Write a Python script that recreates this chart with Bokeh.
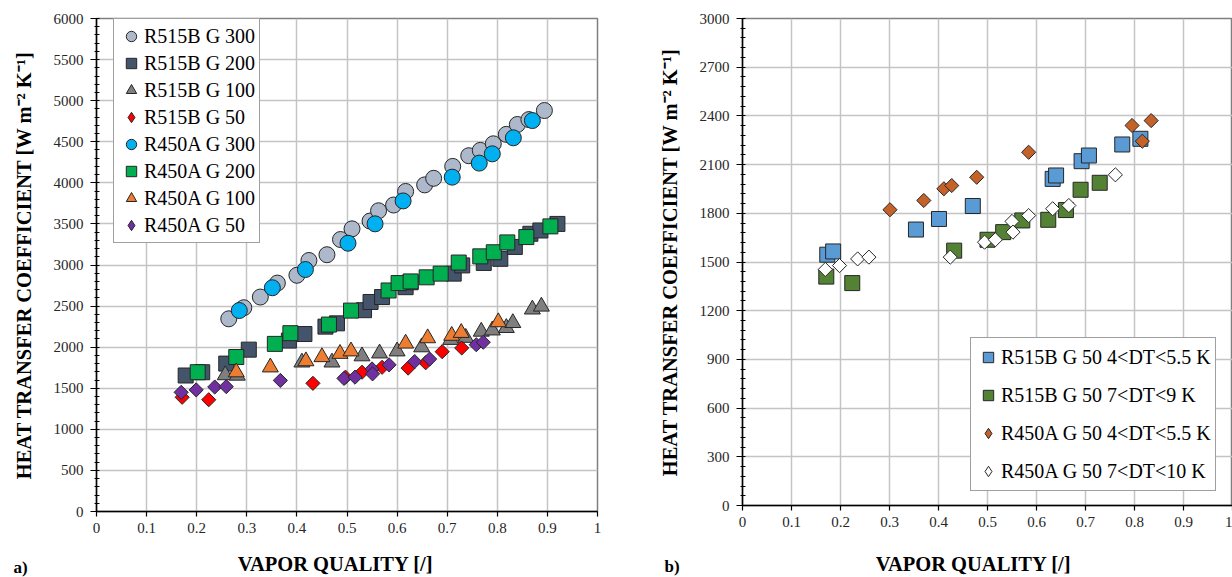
import numpy as np
from bokeh.plotting import figure
from bokeh.layouts import row
from bokeh.models import (FixedTicker, CustomJSTickFormatter, Label, Range1d,
                          Legend, LegendItem)
from bokeh.embed import file_html
from bokeh.resources import INLINE

FONT = "Liberation Serif"

# ---------------- axes ----------------
x_ticks = [0, 0.1, 0.2, 0.3, 0.4, 0.5, 0.6, 0.7, 0.8, 0.9, 1.0]
ya_ticks = [0, 500, 1000, 1500, 2000, 2500, 3000, 3500, 4000, 4500, 5000, 5500, 6000]
yb_ticks = [0, 300, 600, 900, 1200, 1500, 1800, 2100, 2400, 2700, 3000]

# ---------------- data: panel a ----------------
r515b_g300_x = [0.264, 0.294, 0.327, 0.361, 0.40, 0.424, 0.46, 0.487, 0.51, 0.546, 0.563, 0.593,
                0.617, 0.655, 0.673, 0.711, 0.743, 0.766, 0.792, 0.818, 0.840, 0.863, 0.894]
r515b_g300_y = [2345, 2480, 2610, 2780, 2875, 3055, 3125, 3310, 3440, 3535, 3660, 3730,
                3895, 3975, 4055, 4200, 4330, 4395, 4475, 4590, 4710, 4770, 4880]

r515b_g200_x = [0.178, 0.211, 0.259, 0.304, 0.384, 0.415, 0.457, 0.480, 0.534, 0.547, 0.570,
                0.617, 0.627, 0.713, 0.730, 0.773, 0.806, 0.835, 0.866, 0.886, 0.920]
r515b_g200_y = [1655, 1695, 1800, 1970, 2080, 2160, 2250, 2290, 2450, 2550, 2610,
                2730, 2790, 2895, 2995, 3025, 3075, 3220, 3380, 3420, 3500]

r515b_g100_x = [0.257, 0.281, 0.41, 0.47, 0.530, 0.565, 0.600, 0.649, 0.707, 0.737, 0.768,
                0.790, 0.818, 0.831, 0.870, 0.888]
r515b_g100_y = [1660, 1655, 1815, 1815, 1890, 1925, 1950, 2000, 2090, 2115, 2190,
                2205, 2235, 2295, 2460, 2495]

r515b_g50_x = [0.171, 0.224, 0.432, 0.497, 0.530, 0.570, 0.622, 0.657, 0.690, 0.729]
r515b_g50_y = [1390, 1360, 1560, 1635, 1695, 1755, 1745, 1810, 1945, 1990]

r450a_g300_x = [0.285, 0.351, 0.417, 0.502, 0.556, 0.612, 0.710, 0.764, 0.790, 0.832, 0.870]
r450a_g300_y = [2446, 2723, 2945, 3265, 3501, 3780, 4069, 4240, 4353, 4548, 4758]

r450a_g200_x = [0.202, 0.279, 0.356, 0.387, 0.464, 0.508, 0.583, 0.603, 0.627, 0.659, 0.687,
                0.723, 0.766, 0.793, 0.820, 0.858, 0.906]
r450a_g200_y = [1695, 1880, 2040, 2170, 2275, 2445, 2690, 2780, 2800, 2850, 2895,
                3030, 3105, 3155, 3275, 3340, 3470]

r450a_g100_x = [0.279, 0.347, 0.418, 0.450, 0.486, 0.508, 0.617, 0.661, 0.709, 0.728, 0.802]
r450a_g100_y = [1695, 1755, 1830, 1880, 1920, 1950, 2045, 2110, 2140, 2175, 2305]

r450a_g50_x = [0.169, 0.199, 0.236, 0.259, 0.367, 0.494, 0.516, 0.550, 0.551, 0.584, 0.635,
               0.665, 0.758, 0.772]
r450a_g50_y = [1450, 1480, 1515, 1520, 1595, 1620, 1635, 1735, 1675, 1785, 1825,
               1855, 2030, 2060]

# ---------------- data: panel b ----------------
b_r515b_low_x = [0.173, 0.185, 0.354, 0.401, 0.470, 0.633, 0.640, 0.692, 0.707, 0.775, 0.812]
b_r515b_low_y = [1545, 1565, 1700, 1765, 1845, 2012, 2033, 2121, 2156, 2224, 2259]

b_r515b_high_x = [0.171, 0.224, 0.432, 0.500, 0.532, 0.571, 0.624, 0.660, 0.690, 0.729]
b_r515b_high_y = [1410, 1370, 1570, 1637, 1684, 1756, 1760, 1820, 1945, 1988]

b_r450a_low_x = [0.301, 0.370, 0.411, 0.427, 0.478, 0.584, 0.795, 0.816, 0.834]
b_r450a_low_y = [1822, 1879, 1951, 1971, 2022, 2176, 2341, 2244, 2371]

b_r450a_high_x = [0.169, 0.198, 0.235, 0.258, 0.424, 0.494, 0.516, 0.550, 0.552, 0.584,
                  0.633, 0.666, 0.761]
b_r450a_high_y = [1454, 1478, 1519, 1530, 1530, 1622, 1637, 1750, 1684, 1786,
                  1828, 1848, 2037]

EDGE = "#262626"
YTITLE = "HEAT TRANSFER COEFFICIENT [W m\u207b\u00b2 K\u207b\u00b9]"
XTITLE = "VAPOR QUALITY [/]"


def style(p, yticks, yminor_step, yend):
    p.x_range = Range1d(0, 1)
    p.y_range = Range1d(0, yend)
    p.background_fill_color = "white"
    p.border_fill_color = "white"
    p.outline_line_color = "#7f7f7f"
    p.outline_line_width = 1.5
    for g in (p.xgrid[0], p.ygrid[0]):
        g.grid_line_color = "#c4c4c4"
        g.grid_line_width = 1.5
    xa = p.xaxis[0]
    xa.ticker = FixedTicker(ticks=x_ticks)
    xa.formatter = CustomJSTickFormatter(code="return (Math.round(tick*10)/10).toString();")
    xa.major_tick_out = 5
    xa.major_tick_in = 0
    xa.major_label_standoff = 6
    ya = p.yaxis[0]
    minors = np.arange(0, yend + 1, yminor_step).tolist()
    ya.ticker = FixedTicker(ticks=yticks, minor_ticks=minors)
    ya.major_tick_out = 6
    ya.major_tick_in = 0
    ya.minor_tick_out = 2
    ya.minor_tick_in = 3
    ya.major_label_standoff = 7
    for a in (xa, ya):
        a.axis_line_color = "black"
        a.axis_line_width = 1.5
        a.major_tick_line_color = "black"
        a.major_tick_line_width = 1.2
        a.major_label_text_font = FONT
        a.major_label_text_font_size = "15px"
        a.major_label_text_color = "#262626"
        a.axis_label_text_font = FONT
        a.axis_label_text_font_style = "bold"
        a.axis_label_text_font_size = "20.5px"
        a.axis_label_text_color = "black"
    xa.minor_tick_line_color = None
    ya.minor_tick_line_color = "black"
    ya.axis_label = YTITLE
    ya.axis_label_standoff = 16


def title_label(x, y, text, size, align="center"):
    return Label(x=x, y=y, x_units="screen", y_units="screen", text=text,
                 text_font=FONT, text_font_style="bold", text_font_size=size,
                 text_baseline="middle", text_align=align, text_color="black")


def add_series(p, items, x, y, marker, size, color, label):
    if marker == "diamond":
        p.scatter(x, y, marker="square", angle=np.pi / 4, size=size,
                  fill_color=color, line_color=EDGE)
        leg = p.scatter(np.array([np.nan]), np.array([np.nan]), marker="diamond",
                        size=size, fill_color=color, line_color=EDGE)
    else:
        leg = p.scatter(x, y, marker=marker, size=size, fill_color=color, line_color=EDGE)
    items.append(LegendItem(label=label, renderers=[leg]))


def make_legend(items, loc, spacing, glyph_h, padding):
    return Legend(items=items, location=loc, label_text_font=FONT, label_text_font_size="20px",
                  label_text_color="black", glyph_width=26, glyph_height=glyph_h,
                  label_height=glyph_h, spacing=spacing, padding=padding, margin=0,
                  label_standoff=0, border_line_color="#404040", border_line_width=1,
                  background_fill_alpha=1)


def new_fig(width, left, right, bottom):
    p = figure(width=width, height=577, output_backend="svg", toolbar_location=None,
               min_border_left=left, min_border_right=right, min_border_top=18,
               min_border_bottom=bottom)
    try:
        p.frame_align = False
    except Exception:
        pass
    return p


# ---------------- panel a ----------------
pa = new_fig(640, 96, 43, 66)
style(pa, ya_ticks, 100, 6000)

items_a = []
add_series(pa, items_a, r515b_g300_x, r515b_g300_y, "circle", 16, "#adb9ca", "R515B G 300")
add_series(pa, items_a, r515b_g200_x, r515b_g200_y, "square", 15, "#44546a", "R515B G 200")
add_series(pa, items_a, r515b_g100_x, r515b_g100_y, "triangle", 16, "#7f7f7f", "R515B G 100")
add_series(pa, items_a, r515b_g50_x, r515b_g50_y, "diamond", 10, "#ff0000", "R515B G 50")
add_series(pa, items_a, r450a_g300_x, r450a_g300_y, "circle", 16, "#00b0f0", "R450A G 300")
add_series(pa, items_a, r450a_g200_x, r450a_g200_y, "square", 15, "#00b050", "R450A G 200")
add_series(pa, items_a, r450a_g100_x, r450a_g100_y, "triangle", 16, "#ed7d31", "R450A G 100")
add_series(pa, items_a, r450a_g50_x, r450a_g50_y, "diamond", 10, "#7030a0", "R450A G 50")
pa.add_layout(make_legend(items_a, (17, 268), 1, 26, 4))

pa.add_layout(title_label(239, -6, XTITLE, "20.5px"), "below")
pa.add_layout(title_label(-584, -56, "a)", "17px", align="left"), "right")

# ---------------- panel b ----------------
pb = new_fig(592, 102, 0, 72)
style(pb, yb_ticks, 60, 3000)

items_b = []
add_series(pb, items_b, b_r515b_low_x, b_r515b_low_y, "square", 15, "#5b9bd5",
           "R515B G 50 4<DT<5.5 K")
add_series(pb, items_b, b_r515b_high_x, b_r515b_high_y, "square", 15, "#548235",
           "R515B G 50 7<DT<9 K")
add_series(pb, items_b, b_r450a_low_x, b_r450a_low_y, "diamond", 10, "#c5622a",
           "R450A G 50 4<DT<5.5 K")
add_series(pb, items_b, b_r450a_high_x, b_r450a_high_y, "diamond", 10, "white",
           "R450A G 50 7<DT<10 K")
pb.add_layout(make_legend(items_b, (228, 14), 8, 30, 4))

pb.add_layout(title_label(231, -12, XTITLE, "20.5px"), "below")
pb.add_layout(title_label(-78, 4, "b)", "17px", align="left"), "below")

layout = row(pa, pb)
open("out.html", "w").write(file_html(layout, INLINE))
